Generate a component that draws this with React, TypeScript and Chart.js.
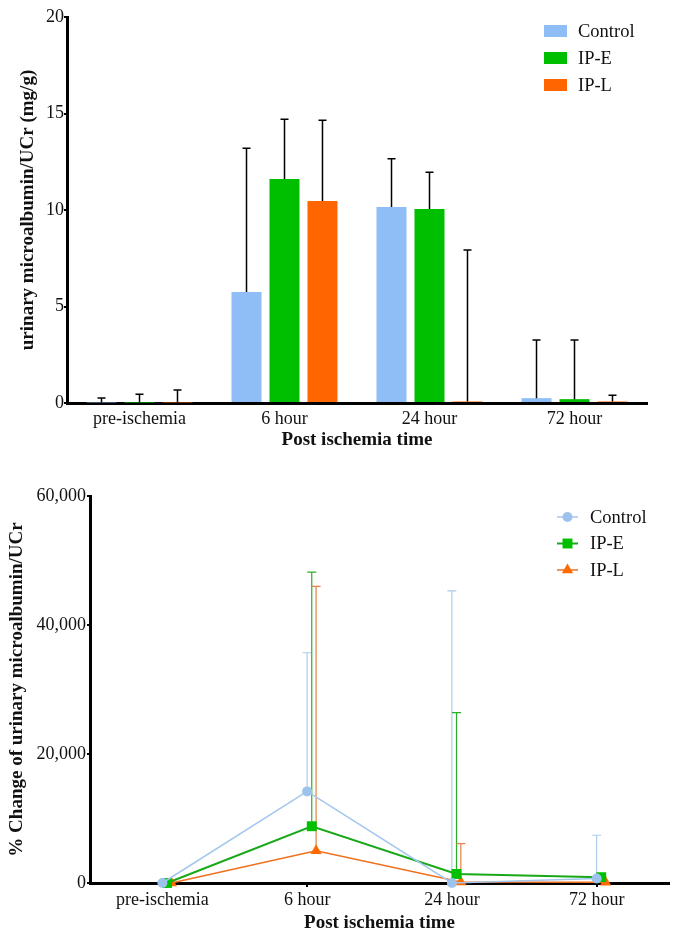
import React, { useEffect, useRef } from 'react';
import { Chart, registerables } from 'chart.js';

Chart.register(...registerables);

// ---------- data ----------
const timepoints = ['pre-ischemia', '6 hour', '24 hour', '72 hour'];
const groupNames = ['Control', 'IP-E', 'IP-L'];

// Top chart: urinary microalbumin/UCr (mg/g), mean and SD
const ratioControl = [0.03, 5.75, 10.15, 0.25];
const ratioControlSD = [0.23, 7.45, 2.5, 3.02];
const ratioIPE = [0.02, 11.6, 10.05, 0.2];
const ratioIPESD = [0.43, 3.1, 1.9, 3.07];
const ratioIPL = [0.03, 10.47, 0.08, 0.08];
const ratioIPLSD = [0.64, 4.18, 7.85, 0.32];
const ratioTicks = [0, 5, 10, 15, 20];

// Bottom chart: % change of urinary microalbumin/UCr, mean and SD
const changeControl = [0, 14200, 0, 700];
const changeControlSD = [0, 21500, 45300, 6700];
const changeIPE = [0, 8800, 1400, 900];
const changeIPESD = [0, 39400, 25000, 300];
const changeIPL = [0, 5000, 150, 100];
const changeIPLSD = [0, 41000, 5950, 0];
const changeTicks = [0, 20000, 40000, 60000];

// ---------- styles ----------
const SERIF = '"Liberation Serif", "Times New Roman", serif';
const seriesNudge = [0, 0.032, 0.062];

function drawMarker(ctx: CanvasRenderingContext2D, style: string, x: number, y: number, r: number, fill: string) {
  ctx.fillStyle = fill;
  ctx.beginPath();
  if (style === 'circle') {
    ctx.arc(x, y, r, 0, Math.PI * 2);
  } else if (style === 'rect') {
    const s = r * Math.SQRT1_2;
    ctx.rect(x - s, y - s, 2 * s, 2 * s);
  } else {
    for (let k = 0; k < 3; k++) {
      const a = (k * 2 * Math.PI) / 3;
      const px = x + Math.sin(a) * r;
      const py = y - Math.cos(a) * r;
      if (k === 0) ctx.moveTo(px, py);
      else ctx.lineTo(px, py);
    }
    ctx.closePath();
  }
  ctx.fill();
}

function drawErrors(chart: any, opts: any) {
  const ctx = chart.ctx;
  const yScale = chart.scales.y;
  ctx.save();
  chart.data.datasets.forEach((ds: any, di: number) => {
    const errs = ds.errorBars;
    if (!errs) return;
    const meta = chart.getDatasetMeta(di);
    meta.data.forEach((el: any, i: number) => {
      const err = errs[i];
      if (!err) return;
      const raw = ds.data[i];
      const v = typeof raw === 'number' ? raw : raw.y;
      const x = el.x;
      const y0 = yScale.getPixelForValue(v);
      const y1 = yScale.getPixelForValue(v + err);
      ctx.strokeStyle = opts.color || ds.errorColor || ds.borderColor;
      ctx.lineWidth = opts.width;
      ctx.beginPath();
      ctx.moveTo(x, y0);
      ctx.lineTo(x, y1);
      ctx.moveTo(x - opts.cap / 2, y1);
      ctx.lineTo(x + opts.cap / 2, y1);
      ctx.stroke();
    });
  });
  ctx.restore();
}

const errorBarsPlugin = {
  id: 'errorBars',
  beforeDatasetsDraw(chart: any, _a: any, opts: any) {
    if (opts && opts.layer === 'before') drawErrors(chart, opts);
  },
  afterDatasetsDraw(chart: any, _a: any, opts: any) {
    if (opts && opts.layer === 'after') drawErrors(chart, opts);
  },
};

const sideLegendPlugin = {
  id: 'sideLegend',
  afterDraw(chart: any, _a: any, opts: any) {
    if (!opts || !opts.show) return;
    const ctx = chart.ctx;
    ctx.save();
    ctx.font = `${opts.fontSize}px ${SERIF}`;
    ctx.textBaseline = 'middle';
    ctx.textAlign = 'left';
    chart.data.datasets.forEach((ds: any, i: number) => {
      const y = opts.y + i * opts.spacing;
      if (opts.kind === 'box') {
        ctx.fillStyle = ds.backgroundColor;
        ctx.fillRect(opts.x, y - 6, 23, 12);
      } else {
        ctx.strokeStyle = ds.borderColor;
        ctx.lineWidth = ds.borderWidth;
        ctx.beginPath();
        ctx.moveTo(opts.x, y);
        ctx.lineTo(opts.x + 21, y);
        ctx.stroke();
        drawMarker(ctx, ds.pointStyle, opts.x + 10.5, y, ds.pointRadius, ds.pointBackgroundColor);
      }
      ctx.fillStyle = '#111';
      ctx.fillText(ds.label, opts.textX, y + 1);
    });
    ctx.restore();
  },
};

const tickFont = { family: SERIF, size: 18 };
const titleFont = { family: SERIF, size: 19, weight: 'bold' as const };

function BarChart() {
  const ref = useRef<HTMLCanvasElement>(null);
  useEffect(() => {
    const barColors = ['#8FBDF6', '#00BE00', '#FF6600'];
    const values = [ratioControl, ratioIPE, ratioIPL];
    const errs = [ratioControlSD, ratioIPESD, ratioIPLSD];
    const chart = new Chart(ref.current!, {
      type: 'bar',
      data: {
        labels: timepoints,
        datasets: groupNames.map((g, i) => ({
          label: g,
          data: values[i],
          backgroundColor: barColors[i],
          borderWidth: 0,
          categoryPercentage: 0.786,
          barPercentage: 0.79,
          errorBars: errs[i],
        })) as any,
      },
      options: {
        responsive: false,
        animation: false,
        layout: { padding: { left: 0, right: 29, top: 17, bottom: 0 } },
        plugins: {
          legend: { display: false },
          tooltip: { enabled: false },
          errorBars: { layer: 'after', color: '#000', width: 1.5, cap: 8 },
          sideLegend: { show: true, kind: 'box', x: 544, textX: 578, y: 31, spacing: 27, fontSize: 18.5 },
        } as any,
        scales: {
          x: {
            grid: { display: false, drawTicks: false },
            border: { display: true, color: '#000', width: 3 },
            ticks: { font: tickFont, color: '#111', padding: 5, maxRotation: 0, autoSkip: false },
            title: { display: true, text: 'Post ischemia time', font: titleFont, color: '#111', padding: { top: 0, bottom: 8.5 } },
            afterFit: (s: any) => { s.height = 57; },
          },
          y: {
            min: 0,
            max: 20,
            afterBuildTicks: (axis: any) => { axis.ticks = ratioTicks.map((v) => ({ value: v })); },
            grid: { display: true, drawOnChartArea: false, drawTicks: true, tickLength: 3, color: '#000', lineWidth: 2 },
            border: { display: true, color: '#000', width: 3 },
            ticks: { font: tickFont, color: '#111', padding: 0 },
            title: { display: true, text: 'urinary microalbumin/UCr (mg/g)', font: titleFont, color: '#111', padding: { top: 16.5, bottom: 0 } },
            afterFit: (s: any) => { s.width = 67; },
          },
        },
      },
      plugins: [errorBarsPlugin, sideLegendPlugin],
    });
    return () => chart.destroy();
  }, []);
  return <canvas ref={ref} width={676} height={460} style={{ display: 'block' }} />;
}

function LineChart() {
  const ref = useRef<HTMLCanvasElement>(null);
  useEffect(() => {
    const lineColors = ['#A3C7EE', '#18A818', '#F0701E'];
    const markerColors = ['#9DC3EC', '#00C000', '#FF6A00'];
    const errColors = ['#ADCCEE', '#2AAE2A', '#DE8444'];
    const widths = [1.5, 2, 1.5];
    const styles = ['circle', 'rect', 'triangle'];
    const radii = [5, 7, 6.5];
    const values = [changeControl, changeIPE, changeIPL];
    const errs = [changeControlSD, changeIPESD, changeIPLSD];
    const chart = new Chart(ref.current!, {
      type: 'line',
      data: {
        datasets: groupNames.map((g, i) => ({
          label: g,
          data: values[i].map((v, k) => ({ x: k + seriesNudge[i], y: v })),
          borderColor: lineColors[i],
          backgroundColor: markerColors[i],
          borderWidth: widths[i],
          pointStyle: styles[i],
          pointRadius: radii[i],
          pointBackgroundColor: markerColors[i],
          pointBorderWidth: 0,
          pointBorderColor: markerColors[i],
          tension: 0,
          clip: false,
          errorBars: errs[i],
          errorColor: errColors[i],
        })) as any,
      },
      options: {
        responsive: false,
        animation: false,
        layout: { padding: { left: 0, right: 6, top: 36, bottom: 0 } },
        plugins: {
          legend: { display: false },
          tooltip: { enabled: false },
          errorBars: { layer: 'before', width: 1.2, cap: 9 },
          sideLegend: { show: true, kind: 'line', x: 557, textX: 590, y: 57, spacing: 26.5, fontSize: 18.5 },
        } as any,
        scales: {
          x: {
            type: 'linear',
            min: -0.5,
            max: 3.5,
            afterBuildTicks: (axis: any) => { axis.ticks = timepoints.map((_, k) => ({ value: k })); },
            grid: { display: true, drawOnChartArea: false, drawTicks: true, tickLength: 4, color: '#000', lineWidth: 2 },
            border: { display: true, color: '#000', width: 3 },
            ticks: {
              font: tickFont,
              color: '#111',
              padding: 2,
              maxRotation: 0,
              autoSkip: false,
              callback: (v: any) => timepoints[Math.round(Number(v))] ?? '',
            },
            title: { display: true, text: 'Post ischemia time', font: titleFont, color: '#111', padding: { top: 0, bottom: 10.5 } },
            afterFit: (s: any) => { s.height = 62; },
          },
          y: {
            min: 0,
            max: 60000,
            afterBuildTicks: (axis: any) => { axis.ticks = changeTicks.map((v) => ({ value: v })); },
            grid: { display: true, drawOnChartArea: false, drawTicks: true, tickLength: 3, color: '#000', lineWidth: 2 },
            border: { display: true, color: '#000', width: 3 },
            ticks: { font: tickFont, color: '#111', padding: 1, callback: (v: any) => Number(v).toLocaleString('en-US') },
            title: { display: true, text: '% Change of urinary microalbumin/UCr', font: titleFont, color: '#111', padding: { top: 5.5, bottom: 0 } },
            afterFit: (s: any) => { s.width = 90; },
          },
        },
      },
      plugins: [errorBarsPlugin, sideLegendPlugin],
    });
    return () => chart.destroy();
  }, []);
  return <canvas ref={ref} width={676} height={485} style={{ display: 'block' }} />;
}

export default function App() {
  return (
    <div style={{ position: 'absolute', left: 0, top: 0, width: 676, height: 945, background: '#fff' }}>
      <BarChart />
      <LineChart />
    </div>
  );
}
